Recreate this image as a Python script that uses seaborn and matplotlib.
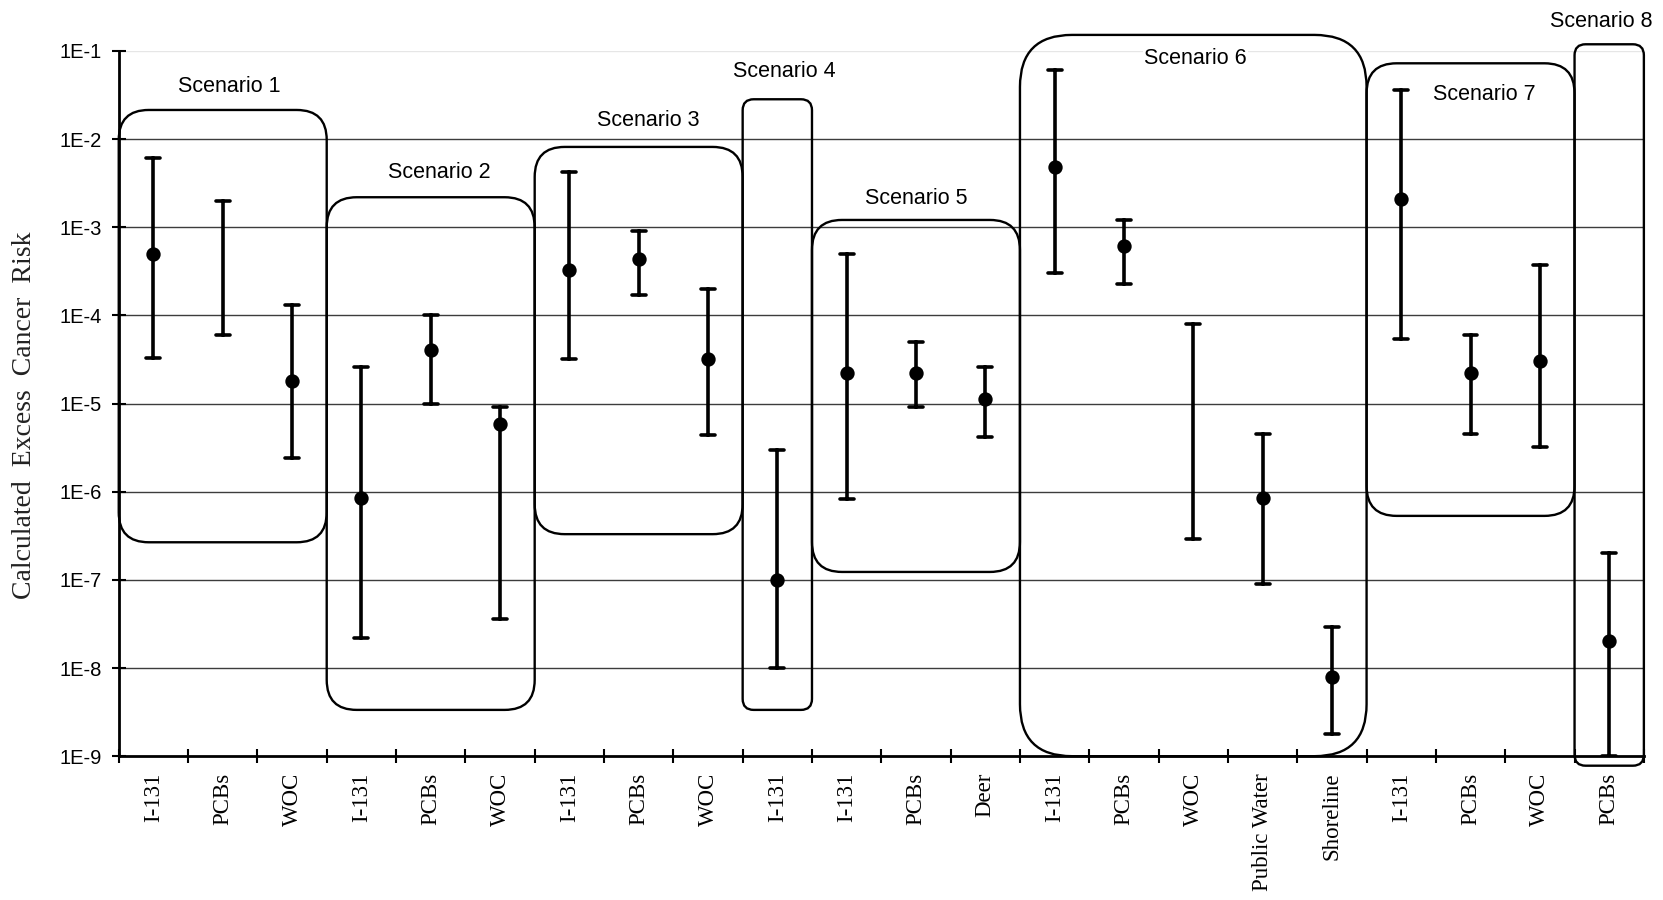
import numpy as np
import pandas as pd
import matplotlib
matplotlib.use("Agg")
import matplotlib.pyplot as plt
import matplotlib.ticker as mticker
from matplotlib.patches import FancyBboxPatch
from matplotlib.transforms import IdentityTransform
import seaborn as sns

# ---------------------------------------------------------------- data
scenarios = ["Scenario 1", "Scenario 2", "Scenario 3", "Scenario 4",
             "Scenario 5", "Scenario 6", "Scenario 7", "Scenario 8"]
pathways = [
    ["I-131", "PCBs", "WOC"],
    ["I-131", "PCBs", "WOC"],
    ["I-131", "PCBs", "WOC"],
    ["I-131"],
    ["I-131", "PCBs", "Deer"],
    ["I-131", "PCBs", "WOC", "Public Water", "Shoreline"],
    ["I-131", "PCBs", "WOC"],
    ["PCBs"],
]
# lower bound, central estimate (nan = none reported), upper bound
risk_low = [3.3e-5, 6.0e-5, 2.4e-6,
            2.2e-8, 1.0e-5, 3.6e-8,
            3.2e-5, 1.7e-4, 4.4e-6,
            1.0e-8,
            8.2e-7, 9.2e-6, 4.2e-6,
            3.0e-4, 2.3e-4, 2.9e-7, 8.9e-8, 1.8e-9,
            5.4e-5, 4.5e-6, 3.2e-6,
            1.0e-9]
risk_mid = [5.0e-4, np.nan, 1.8e-5,
            8.4e-7, 4.0e-5, 5.8e-6,
            3.3e-4, 4.4e-4, 3.2e-5,
            1.0e-7,
            2.2e-5, 2.2e-5, 1.13e-5,
            4.8e-3, 6.1e-4, np.nan, 8.4e-7, 7.9e-9,
            2.1e-3, 2.2e-5, 3.0e-5,
            2.0e-8]
risk_high = [6.1e-3, 2.0e-3, 1.3e-4,
             2.6e-5, 1.0e-4, 9.1e-6,
             4.2e-3, 9.1e-4, 2.0e-4,
             3.0e-6,
             5.0e-4, 5.0e-5, 2.6e-5,
             6.0e-2, 1.2e-3, 7.9e-5, 4.5e-6, 2.9e-8,
             3.6e-2, 6.0e-5, 3.7e-4,
             2.0e-7]

y_tick_values = [1e-9, 1e-8, 1e-7, 1e-6, 1e-5, 1e-4, 1e-3, 1e-2, 1e-1]
y_tick_labels = ["1E-9", "1E-8", "1E-7", "1E-6", "1E-5", "1E-4", "1E-3", "1E-2", "1E-1"]

# ------------------------------------------------------- scenario frames
box_top = [2.14e-2, 2.19e-3, 8.15e-3, 2.83e-2, 1.21e-3, 1.52e-1, 7.24e-2, 1.19e-1]
box_bottom = [2.67e-7, 3.35e-9, 3.3e-7, 3.35e-9, 1.23e-7, 1.0e-9, 5.32e-7, 7.8e-10]
box_radius_px = [30, 30, 30, 11, 30, 52, 30, 11]
label_height = [3.9e-2, 4.17e-3, 1.64e-2, 5.78e-2, 2.11e-3, 8.26e-2, 3.17e-2, 2.17e-1]
label_shift = [0.1, 0.13, 0.14, 0.1, 0.0, 0.03, 0.2, -0.11]

# ------------------------------------------------------- tidy tables
keys, names = [], []
for g, paths in enumerate(pathways):
    for p in paths:
        keys.append(f"{len(keys):02d}")
        names.append(p)

range_df = pd.DataFrame({
    "key": keys * 2,
    "risk": risk_low + risk_high,
})
mid_df = pd.DataFrame({"key": keys, "risk": risk_mid}).dropna()

# ------------------------------------------------------- figure
sns.set_theme(style="white")
plt.rcParams["font.family"] = ["Liberation Sans", "DejaVu Sans"]

fig = plt.figure(figsize=(16.63, 9.0), dpi=100)
ax = fig.add_axes([0.0714, 0.1598, 0.9171, 0.7836])
ax.set_yscale("log")

# min-max ranges: percentile interval 0..100 of the two bounds
sns.pointplot(data=range_df, x="key", y="risk", order=keys,
              estimator="median", errorbar=("pi", 100), capsize=0.2,
              color="black", linestyle="none", markersize=0,
              err_kws={"linewidth": 2.6}, ax=ax)
# central estimates
sns.pointplot(data=mid_df, x="key", y="risk", order=keys,
              errorbar=None, color="black", linestyle="none",
              marker="o", markersize=8.3, ax=ax)

n = len(keys)
ax.set_xlim(-0.5, n - 0.5)
ax.set_ylim(y_tick_values[0], y_tick_values[-1])

# horizontal reference lines
for v in y_tick_values[1:-1]:
    ax.axhline(v, color="#3c3c3c", lw=1.0, zorder=0)
ax.axhline(y_tick_values[-1], color="#e6e6e6", lw=1.0, zorder=0)

# axes styling
for s in ["top", "right"]:
    ax.spines[s].set_visible(False)
for s in ["left", "bottom"]:
    ax.spines[s].set_color("black")
    ax.spines[s].set_linewidth(2.0)

ax.yaxis.set_major_locator(mticker.FixedLocator(y_tick_values))
ax.yaxis.set_major_formatter(mticker.FixedFormatter(y_tick_labels))
ax.yaxis.set_minor_locator(mticker.NullLocator())
ax.tick_params(axis="y", which="major", direction="inout", length=10,
               width=1.5, color="black", pad=7, labelsize=14.5,
               left=True, labelcolor="black")

ax.xaxis.set_major_locator(mticker.FixedLocator(np.arange(n + 1) - 0.5))
ax.xaxis.set_major_formatter(mticker.NullFormatter())
ax.xaxis.set_minor_locator(mticker.FixedLocator(np.arange(n)))
ax.xaxis.set_minor_formatter(mticker.FixedFormatter(names))
ax.tick_params(axis="x", which="major", direction="inout", length=10,
               width=1.5, color="black", bottom=True)
ax.tick_params(axis="x", which="minor", length=0, pad=12, bottom=True)
for lab in ax.xaxis.get_minorticklabels():
    lab.set_rotation(90)
    lab.set_va("top")
    lab.set_ha("center")
    lab.set_family(["Liberation Serif", "DejaVu Serif"])
    lab.set_fontsize(16.5)
    lab.set_color("black")

ax.set_xlabel("")
ax.set_ylabel("Calculated  Excess  Cancer  Risk",
              family=["Liberation Serif", "DejaVu Serif"],
              fontsize=20, color="#222222")
ax.yaxis.set_label_coords(-0.0536, 0.484)

# scenario frames and titles
start = 0
for g, name in enumerate(scenarios):
    cnt = len(pathways[g])
    x0, x1 = start - 0.5, start + cnt - 0.5
    p0 = ax.transData.transform((x0, box_bottom[g]))
    p1 = ax.transData.transform((x1, box_top[g]))
    box = FancyBboxPatch((p0[0], p0[1]), p1[0] - p0[0], p1[1] - p0[1],
                         boxstyle=f"round,pad=0,rounding_size={box_radius_px[g]}",
                         transform=IdentityTransform(), fill=False,
                         ec="black", lw=1.7, clip_on=False)
    fig.add_artist(box)
    cx = start + (cnt - 1) / 2 + label_shift[g]
    ax.text(cx, label_height[g], name, ha="center", va="center",
            fontsize=15.5, color="black", clip_on=False,
            bbox=dict(fc="white", ec="none", pad=1.0))
    start += cnt

fig.savefig("out.png", dpi=100)
